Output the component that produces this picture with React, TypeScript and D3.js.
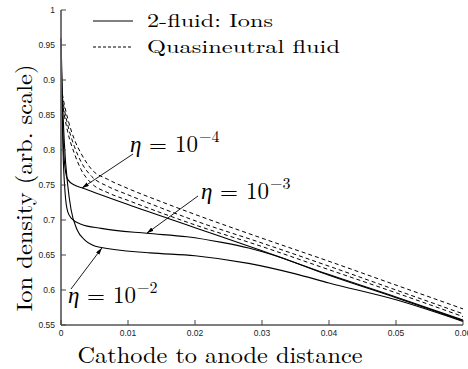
import React from "react";
import * as d3 from "d3";

const xTicks = [0, 0.01, 0.02, 0.03, 0.04, 0.05, 0.06];
const yTicks = [0.55, 0.6, 0.65, 0.7, 0.75, 0.8, 0.85, 0.9, 0.95, 1];

// 2-fluid ions (solid)
const ionX4 = [0, 0.0001, 0.0003, 0.0006, 0.001, 0.002, 0.0031, 0.01, 0.02, 0.03, 0.04, 0.05, 0.06];
const ionY4 = [0.96, 0.9, 0.82, 0.775, 0.758, 0.75, 0.746, 0.722, 0.689, 0.656, 0.622, 0.59, 0.557];
const ionX3 = [0, 0.0001, 0.0003, 0.0006, 0.001, 0.0016, 0.003, 0.006, 0.0128, 0.0188, 0.024, 0.028, 0.032, 0.04, 0.05, 0.06];
const ionY3 = [0.96, 0.89, 0.8, 0.74, 0.712, 0.702, 0.694, 0.688, 0.681, 0.676, 0.668, 0.66, 0.649, 0.621, 0.589, 0.556];
const ionX2 = [0, 0.0002, 0.0005, 0.001, 0.0015, 0.0024, 0.0036, 0.0058, 0.0133, 0.02, 0.028, 0.035, 0.04, 0.05, 0.06];
const ionY2 = [0.96, 0.88, 0.81, 0.75, 0.715, 0.686, 0.671, 0.661, 0.653, 0.649, 0.638, 0.623, 0.61, 0.586, 0.555];

// Quasineutral fluid (dashed)
const qnX = [0.0002, 0.0005, 0.001, 0.002, 0.003, 0.0046, 0.007, 0.01, 0.015, 0.02, 0.0297, 0.04, 0.05, 0.06];
const qnY4 = [0.88, 0.865, 0.845, 0.815, 0.795, 0.772, 0.758, 0.745, 0.726, 0.708, 0.675, 0.641, 0.607, 0.573];
const qnY3 = [0.875, 0.858, 0.836, 0.805, 0.783, 0.762, 0.748, 0.736, 0.717, 0.699, 0.668, 0.634, 0.6, 0.566];
const qnY2 = [0.87, 0.85, 0.826, 0.795, 0.772, 0.752, 0.739, 0.728, 0.71, 0.693, 0.663, 0.629, 0.596, 0.562];

const legendLabels = ["2-fluid: Ions", "Quasineutral fluid"];
const etaExps = ["4", "3", "2"];
// annotation target points (data coords)
const arrowTargetX = [0.00313, 0.0128, 0.0061];
const arrowTargetY = [0.7457, 0.681, 0.66];

const W = 468, H = 369;
const x = d3.scaleLinear().domain([0, 0.06]).range([61, 463]);
const y = d3.scaleLinear().domain([0.55, 1]).range([325, 10]);

const line = d3
  .line<[number, number]>()
  .x((d) => x(d[0]))
  .y((d) => y(d[1]))
  .curve(d3.curveMonotoneX);

const zip = (xs: number[], ys: number[]) => xs.map((v, i) => [v, ys[i]] as [number, number]);

const solids = [zip(ionX4, ionY4), zip(ionX3, ionY3), zip(ionX2, ionY2)];
const dashes = [zip(qnX, qnY4), zip(qnX, qnY3), zip(qnX, qnY2)];

const serifStyle = {
  fontFamily:
    '"Latin Modern Roman", "CMU Serif", "Liberation Serif", "DejaVu Serif", "Tinos", "Nimbus Roman", "Nimbus Roman No9 L", "FreeSerif", "TeX Gyre Termes", "C059", "Century Schoolbook L", "Noto Serif", "Times New Roman", Times, serif',
};
const sansStyle = { fontFamily: '"Liberation Sans", Arial, Helvetica, sans-serif' };

// label layout (pixels)
const labelPos = [
  { tx: 130, ty: 152, ax: 133, ay: 154 },
  { tx: 201, ty: 199, ax: 198, ay: 196 },
  { tx: 68, ty: 303, ax: 71, ay: 289 },
];

function EtaLabel({ tx, ty, exp }: { tx: number; ty: number; exp: string }) {
  return (
    <text x={tx} y={ty} style={serifStyle} fontSize={23} fill="#000">
      <tspan fontStyle="italic">η</tspan>
      <tspan x={tx + 19}>=</tspan>
      <tspan x={tx + 45}>10</tspan>
      <tspan x={tx + 69} dy={-10} fontSize={16}>−{exp}</tspan>
    </text>
  );
}

export default function App() {
  return (
    <svg
      width={W}
      height={H}
      viewBox={`0 0 ${W} ${H}`}
      style={{ position: "absolute", left: 0, top: 0, background: "#fff" }}
    >
      <defs>
        <marker id="ah" viewBox="0 0 10 6" refX="10" refY="3" markerWidth="7" markerHeight="4.2" orient="auto" markerUnits="userSpaceOnUse">
          <path d="M0,0 L10,3 L0,6 z" fill="#000" />
        </marker>
      </defs>

      {/* curves */}
      {dashes.map((d, i) => (
        <path key={"d" + i} d={line(d) || ""} fill="none" stroke="#000" strokeWidth={1} strokeDasharray="4,3" />
      ))}
      {solids.map((d, i) => (
        <path key={"s" + i} d={line(d) || ""} fill="none" stroke="#000" strokeWidth={1.1} />
      ))}

      {/* axes */}
      <line x1={61} x2={61} y1={y(1)} y2={y(0.55)} stroke="#666" strokeWidth={1.8} />
      <line x1={61} x2={x(0.06)} y1={y(0.55)} y2={y(0.55)} stroke="#555" strokeWidth={1.5} />
      {yTicks.map((t) => (
        <g key={"y" + t}>
          <line x1={61} x2={66} y1={y(t)} y2={y(t)} stroke="#444" strokeWidth={1} />
          <text x={55} y={y(t) + 3} textAnchor="end" style={sansStyle} fontSize={8.5} fill="#222">
            {String(t)}
          </text>
        </g>
      ))}
      {xTicks.map((t) => (
        <g key={"x" + t}>
          <line x1={x(t)} x2={x(t)} y1={325} y2={320} stroke="#444" strokeWidth={1} />
          <text x={x(t)} y={336} textAnchor="middle" style={sansStyle} fontSize={8.5} fill="#222">
            {String(t)}
          </text>
        </g>
      ))}

      {/* axis labels */}
      <text
        x={220}
        y={363}
        textAnchor="middle"
        style={serifStyle}
        fontSize={23}
        textLength={285}
        lengthAdjust="spacingAndGlyphs"
      >
        Cathode to anode distance
      </text>
      <text
        transform="translate(32,188) rotate(-90)"
        textAnchor="middle"
        style={serifStyle}
        fontSize={22}
        textLength={247}
        lengthAdjust="spacingAndGlyphs"
      >
        Ion density (arb. scale)
      </text>

      {/* legend */}
      <line x1={93} x2={133} y1={21} y2={21} stroke="#000" strokeWidth={1} />
      <line x1={93} x2={133} y1={47} y2={47} stroke="#000" strokeWidth={1} strokeDasharray="3,2" />
      <text x={147} y={27} style={serifStyle} fontSize={18.5} textLength={126} lengthAdjust="spacingAndGlyphs">
        {legendLabels[0]}
      </text>
      <text x={147} y={53} style={serifStyle} fontSize={18.5} textLength={193} lengthAdjust="spacingAndGlyphs">
        {legendLabels[1]}
      </text>

      {/* annotations */}
      {labelPos.map((p, i) => (
        <g key={"a" + i}>
          <line
            x1={p.ax}
            y1={p.ay}
            x2={x(arrowTargetX[i])}
            y2={y(arrowTargetY[i])}
            stroke="#000"
            strokeWidth={0.9}
            markerEnd="url(#ah)"
          />
          <EtaLabel tx={p.tx} ty={p.ty} exp={etaExps[i]} />
        </g>
      ))}
    </svg>
  );
}
